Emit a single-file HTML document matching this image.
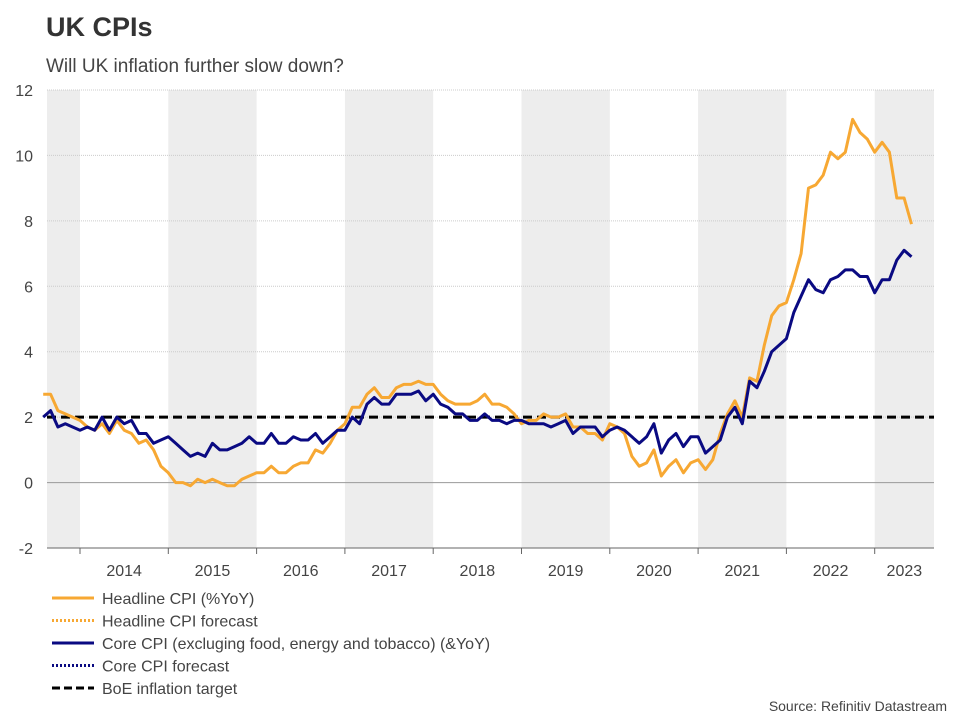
<!DOCTYPE html>
<html><head><meta charset="utf-8"><style>
body{margin:0;background:#fff;font-family:"Liberation Sans",sans-serif;}
svg text{font-family:"Liberation Sans",sans-serif;}
</style></head><body>
<svg width="960" height="720">
<text x="46" y="36" font-size="27" font-weight="bold" fill="#333">UK CPIs</text>
<text x="46" y="72" font-size="19" fill="#444">Will UK inflation further slow down?</text>
<g id="bands"></g><g id="grid"></g><g id="series"></g><g id="axes"></g>
<g id="legend"></g>
<text x="947" y="711" font-size="14" fill="#444" text-anchor="end">Source: Refinitiv Datastream</text>
</svg>
<script>
const years=[2014,2015,2016,2017,2018,2019,2020,2021,2022,2023];
const yTicks=[-2,0,2,4,6,8,10,12];
const startYear=2013, startMonth=7; // Aug 2013
const headline=[2.7,2.7,2.2,2.1,2.0,
1.9,1.7,1.6,1.8,1.5,1.9,1.6,1.5,1.2,1.3,1.0,0.5,
0.3,0.0,0.0,-0.1,0.1,0.0,0.1,0.0,-0.1,-0.1,0.1,0.2,
0.3,0.3,0.5,0.3,0.3,0.5,0.6,0.6,1.0,0.9,1.2,1.6,
1.8,2.3,2.3,2.7,2.9,2.6,2.6,2.9,3.0,3.0,3.1,3.0,
3.0,2.7,2.5,2.4,2.4,2.4,2.5,2.7,2.4,2.4,2.3,2.1,
1.8,1.9,1.9,2.1,2.0,2.0,2.1,1.7,1.7,1.5,1.5,1.3,
1.8,1.7,1.5,0.8,0.5,0.6,1.0,0.2,0.5,0.7,0.3,0.6,
0.7,0.4,0.7,1.5,2.1,2.5,2.0,3.2,3.1,4.2,5.1,5.4,
5.5,6.2,7.0,9.0,9.1,9.4,10.1,9.9,10.1,11.1,10.7,10.5,
10.1,10.4,10.1,8.7,8.7,7.9];
const core=[2.0,2.2,1.7,1.8,1.7,
1.6,1.7,1.6,2.0,1.6,2.0,1.8,1.9,1.5,1.5,1.2,1.3,
1.4,1.2,1.0,0.8,0.9,0.8,1.2,1.0,1.0,1.1,1.2,1.4,
1.2,1.2,1.5,1.2,1.2,1.4,1.3,1.3,1.5,1.2,1.4,1.6,
1.6,2.0,1.8,2.4,2.6,2.4,2.4,2.7,2.7,2.7,2.8,2.5,
2.7,2.4,2.3,2.1,2.1,1.9,1.9,2.1,1.9,1.9,1.8,1.9,
1.9,1.8,1.8,1.8,1.7,1.8,1.9,1.5,1.7,1.7,1.7,1.4,
1.6,1.7,1.6,1.4,1.2,1.4,1.8,0.9,1.3,1.5,1.1,1.4,
1.4,0.9,1.1,1.3,2.0,2.3,1.8,3.1,2.9,3.4,4.0,4.2,
4.4,5.2,5.7,6.2,5.9,5.8,6.2,6.3,6.5,6.5,6.3,6.3,
5.8,6.2,6.2,6.8,7.1,6.9];
const target=2;
const L=47,R=934,T=90,B=548;
const NS='http://www.w3.org/2000/svg';
function X(t){return 80+(t-2014)*88.3;}
function Y(v){return T+(12-v)*(B-T)/14;}
function mk(tag,attrs,parent){const e=document.createElementNS(NS,tag);for(const k in attrs)e.setAttribute(k,attrs[k]);document.getElementById(parent).appendChild(e);return e;}
const bandYears=[2013,2015,2017,2019,2021,2023];
bandYears.forEach(y=>{const x0=Math.max(L,X(y)),x1=Math.min(R,X(y+1));
const r=mk('rect',{x:x0,y:T,width:x1-x0,height:B-T,fill:'#ededed'},'bands');

});
yTicks.forEach(v=>{const l=mk('line',{x1:L,x2:R,y1:Y(v),y2:Y(v),stroke:v===0?'#999':'#ccc','stroke-dasharray':v===0?'':'1,1','stroke-width':1},'grid');


const t=mk('text',{x:L-14,y:Y(v)+6,'font-size':16,fill:'#444','text-anchor':'end'},'axes');t.textContent=v;

});
mk('line',{x1:L,x2:R,y1:B,y2:B,stroke:'#666'},'axes');
years.forEach(y=>{const x=X(y);mk('line',{x1:x,x2:x,y1:B,y2:B+6,stroke:'#666'},'axes');
const cx=(x+Math.min(R,X(y+1)))/2;
const t=mk('text',{x:cx,y:B+28,'font-size':16,fill:'#444','text-anchor':'middle'},'axes');t.textContent=y;

});
function path(arr){return arr.map((v,i)=>{const t=startYear+(startMonth+i)/12;return (i?'L':'M')+X(t).toFixed(1)+','+Y(v).toFixed(1);}).join('');}
const tl=mk('line',{x1:L,x2:R,y1:Y(target),y2:Y(target),stroke:'#000','stroke-width':3,'stroke-dasharray':'9,5'},'series');


const hp=mk('path',{d:path(headline),fill:'none',stroke:'#f7a833','stroke-width':3,'stroke-linejoin':'round'},'series');


const cp=mk('path',{d:path(core),fill:'none',stroke:'#0a0a82','stroke-width':3,'stroke-linejoin':'round'},'series');


const legendItems=[['Headline CPI (%YoY)','#f7a833',''],['Headline CPI forecast','#f7a833','2,2'],['Core CPI (excluging food, energy and tobacco) (&YoY)','#0a0a82',''],['Core CPI forecast','#0a0a82','2,2'],['BoE inflation target','#000','8,4']];
legendItems.forEach((it,i)=>{const y=598+i*22.5;
mk('line',{x1:52,x2:94,y1:y,y2:y,stroke:it[1],'stroke-width':3,'stroke-dasharray':it[2]},'legend');
const t=mk('text',{x:102,y:y+6,'font-size':16,fill:'#444'},'legend');t.textContent=it[0];

});
</script>
</body></html>
